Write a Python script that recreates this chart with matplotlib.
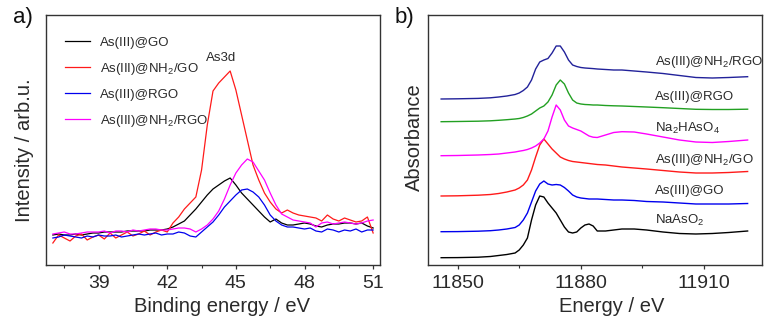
import matplotlib
matplotlib.use("Agg")
import matplotlib.pyplot as plt
import numpy as np

plt.rcParams['font.family'] = ['Liberation Sans', 'DejaVu Sans']
plt.rcParams['mathtext.fontset'] = 'custom'
plt.rcParams['mathtext.rm'] = 'Liberation Sans'

# ---------------- Panel a: XPS As3d ----------------
be = [37.0, 37.25, 37.5, 37.75, 38.0, 38.25, 38.5, 38.75, 39.0, 39.25, 39.5, 39.75,
      40.0, 40.25, 40.5, 40.75, 41.0, 41.25, 41.5, 41.75, 42.0, 42.25, 42.5, 42.75,
      43.0, 43.25, 43.5, 43.75, 44.0, 44.25, 44.5, 44.75, 45.0, 45.25, 45.5, 45.75,
      46.0, 46.25, 46.5, 46.75, 47.0, 47.25, 47.5, 47.75, 48.0, 48.25, 48.5, 48.75,
      49.0, 49.25, 49.5, 49.75, 50.0, 50.25, 50.5, 50.75, 51.0]
xps_go = [30, 31, 30, 30, 31, 30, 31, 32, 32, 33, 33, 33,
          33, 34, 34, 34, 34, 35, 35, 35, 36, 38, 41, 44,
          50, 56, 63, 70, 76, 80, 84, 87, 80, 72, 66, 60,
          54, 48, 43, 46, 42, 40, 40, 41, 42, 41, 39, 38,
          40, 41, 41, 42, 42, 41, 42, 39, 37]
xps_nh2_go = [22, 30, 27, 24, 29, 31, 25, 28, 30, 26, 32, 27,
              30, 33, 29, 31, 34, 30, 33, 35, 33, 42, 48, 56,
              62, 68, 95, 140, 174, 182, 188, 194, 175, 150, 125, 100,
              85, 72, 63, 56, 52, 55, 52, 50, 49, 48, 47, 44,
              50, 46, 44, 47, 45, 43, 44, 48, 32]
xps_rgo = [27, 28, 30, 29, 28, 27, 29, 28, 30, 29, 29, 30,
           28, 29, 30, 31, 30, 31, 32, 30, 31, 31, 33, 32,
           29, 28, 33, 38, 43, 50, 58, 64, 70, 75, 76, 73,
           68, 60, 50, 44, 40, 38, 38, 37, 36, 37, 34, 33,
           36, 35, 33, 35, 34, 36, 33, 35, 35]
xps_nh2_rgo = [31, 32, 33, 31, 31, 32, 33, 33, 33, 34, 32, 34,
               34, 33, 35, 34, 35, 36, 36, 35, 35, 36, 37, 37,
               36, 33, 36, 40, 46, 54, 66, 80, 92, 100, 106, 103,
               94, 85, 72, 60, 51, 48, 45, 44, 43, 42, 38, 42,
               43, 41, 42, 43, 42, 41, 42, 44, 45]
xps_labels = ['As(III)@GO', r'As(III)@NH$_{2}$/GO', 'As(III)@RGO', r'As(III)@NH$_{2}$/RGO']
xps_colors = ['#000000', '#ff1a1a', '#0000ee', '#ff00ff']
xps_ticks = [39, 42, 45, 48, 51]

# ---------------- Panel b: XANES ----------------
energy = [11846, 11850, 11855, 11858, 11860, 11862, 11864, 11865, 11866, 11867,
          11868, 11869, 11870, 11871, 11872, 11873, 11874, 11875, 11876, 11877,
          11878, 11879, 11880, 11881, 11882, 11883, 11884, 11886, 11888, 11890,
          11893, 11896, 11900, 11904, 11908, 11912, 11916, 11920.6]
naaso2 = [7.3, 7.4, 7.8, 8.5, 9.5, 10.5, 12, 15, 20, 27,
          45, 60, 69, 68, 62, 57, 52, 45, 38, 33,
          32, 33, 37, 40, 41, 39, 34, 34, 35, 36,
          36, 35, 33, 31.5, 31, 31.5, 32.5, 34]
as_go = [33.3, 33.4, 33.8, 34.3, 35, 36, 37.5, 40, 45, 52,
         63, 74, 81, 84, 81, 80, 80.5, 80, 77.5, 74,
         70, 68, 67, 66.5, 66, 66, 66, 65.5, 65, 65,
         64.5, 63.5, 63, 62, 61, 61, 61, 61.5]
as_nh2_go = [69, 69.2, 69.8, 70.5, 71.5, 73, 75, 77, 80, 85,
             95, 108, 120, 126, 121, 116, 112, 108, 106, 104.5,
             103.5, 103, 102.5, 102, 101.5, 101, 100.5, 100, 99, 98,
             97, 96, 94.5, 93, 92, 92, 92.5, 93.5]
na2haso4 = [109.3, 109.5, 110, 110.5, 111, 112, 113, 113.8, 114.5, 115.5,
            117, 119, 122, 126, 134, 148, 160, 155, 145, 139,
            137, 135.5, 134, 131.5, 129, 127.8, 127.5, 130, 132.5, 133.3,
            133, 131, 128, 125, 123, 122.5, 123.5, 125]
as_rgo = [143.3, 143.5, 143.8, 144.2, 144.7, 145.3, 146, 146.5, 147.5, 149,
          151, 154, 157, 159, 163, 170, 180, 185, 181, 172,
          165, 162, 161, 160.5, 160.3, 160, 160, 159.5, 159.2, 159,
          158.5, 158, 157.3, 156.5, 155.7, 155.5, 155.5, 155.8]
as_nh2_rgo = [166, 166.2, 166.6, 167.2, 168, 169, 170.5, 172, 174.5, 178,
              185, 196, 203, 205, 206.5, 212, 219, 219, 213, 205,
              200, 198.5, 197.5, 197, 196.7, 196.4, 196, 195.5, 195, 195,
              194, 193, 191.5, 189.5, 187.5, 187, 187.5, 188.3]
xanes_series = [naaso2, as_go, as_nh2_go, na2haso4, as_rgo, as_nh2_rgo]
xanes_labels = [r'NaAsO$_{2}$', 'As(III)@GO', r'As(III)@NH$_{2}$/GO',
                r'Na$_{2}$HAsO$_{4}$', 'As(III)@RGO', r'As(III)@NH$_{2}$/RGO']
xanes_colors = ['#000000', '#0000ee', '#ff1a1a', '#ff00ff', '#22a022', '#22229a']
xanes_label_y = [45, 74, 105, 137, 168, 203]
xanes_ticks = [11850, 11880, 11910]

txt = '#2a2a2a'
W, H = 776, 322
fig = plt.figure(figsize=(7.76, 3.22), dpi=100)
axa = fig.add_axes([46/W, 57/H, 334/W, 250/H])
axb = fig.add_axes([428/W, 57/H, 334/W, 250/H])

for ax in (axa, axb):
    for s in ax.spines.values():
        s.set_color('#333333')
        s.set_linewidth(1.0)
    ax.set_yticks([])
    ax.set_ylim(0, 250)
    ax.tick_params(axis='x', which='major', direction='out', length=3, width=0.9,
                   labelsize=14, colors='#333333', pad=4)
    ax.tick_params(axis='x', which='minor', direction='out', length=2, width=0.8,
                   colors='#333333')
    ax.tick_params(axis='x', labelcolor=txt)

# Panel a
ys_a = [xps_go, xps_nh2_go, xps_rgo, xps_nh2_rgo]
for y, lab, c in zip(ys_a, xps_labels, xps_colors):
    axa.plot(be, y, color=c, lw=0.9, label=lab)
axa.set_xlim(36.7, 51.3)
axa.set_xticks(xps_ticks)
axa.set_xticks([37.5, 40.5, 43.5, 46.5, 49.5], minor=True)
leg = axa.legend(loc='upper left', bbox_to_anchor=(0.02, 0.96), frameon=False,
                 fontsize=9.5, handlelength=1.9, handletextpad=0.75, labelspacing=0.9,
                 labelcolor=txt)
axa.text(44.35, 207, 'As3d', fontsize=9.5, color=txt, ha='center', va='center')
fig.text(222/W, 1 - 307/H, 'Binding energy / eV', fontsize=14.5, color=txt,
         ha='center', va='center')
fig.text(24.5/W, 1 - 150/H, 'Intensity / arb.u.', fontsize=14.5, color=txt,
         ha='center', va='center', rotation=90)
fig.text(13/W, 1 - 17/H, 'a)', fontsize=16, color='#111111', va='center', ha='left')

# Panel b
for y, c in zip(xanes_series, xanes_colors):
    axb.plot(energy, y, color=c, lw=1.0)
for lab, ly in zip(xanes_labels, xanes_label_y):
    axb.text(11898, ly, lab, fontsize=9.5, color=txt, ha='left', va='center')
axb.set_xlim(11842.8, 11924.1)
axb.set_xticks(xanes_ticks)
axb.set_xticks([11865, 11895], minor=True)
fig.text(612/W, 1 - 307/H, 'Energy / eV', fontsize=14.5, color=txt,
         ha='center', va='center')
fig.text(414.5/W, 1 - 137/H, 'Absorbance', fontsize=14.5, color=txt,
         ha='center', va='center', rotation=90)
fig.text(395/W, 1 - 17/H, 'b)', fontsize=16, color='#111111', va='center', ha='left')

fig.savefig('out.png', dpi=100)
